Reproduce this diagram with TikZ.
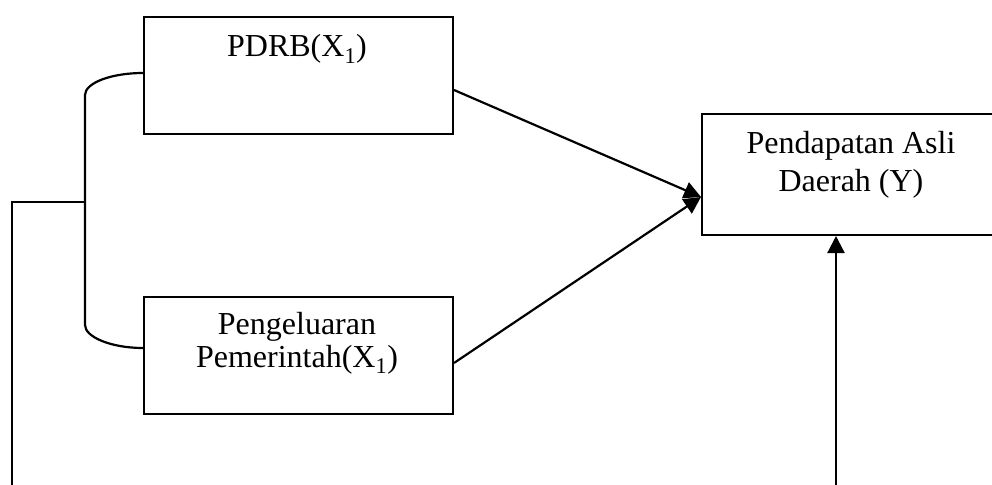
\documentclass[tikz,border=0pt]{standalone}
\usepackage{fontspec}
\setmainfont{Liberation Serif}
\usetikzlibrary{arrows.meta,calc}
\begin{document}
\begin{tikzpicture}[x=1pt,y=-1pt,
  box/.style={draw=black,line width=2pt,anchor=north west,inner sep=0pt},
  lbl/.style={inner sep=0pt,align=center,font=\fontsize{32}{33}\selectfont},
  conn/.style={line width=2.2pt,black},
  arr/.style={conn,-{Triangle[length=17pt,width=17pt]}}]
\useasboundingbox (0,0) rectangle (992,484);
\clip (0,0) rectangle (992,484);
% boxes
\node[box,minimum width=309pt,minimum height=117pt] (pdrb) at (143,16) {};
\node[box,minimum width=309pt,minimum height=117pt] (peng) at (143,296) {};
\node[box,minimum width=300pt,minimum height=121pt] (pad) at (701,113) {};
% texts
\node[lbl,anchor=base] (pdrbt) at (297,57) {PDRB(X\textsubscript{1})};
\node[lbl,anchor=north] (pengt) at (297,312) {Pengeluaran\\Pemerintah(X\textsubscript{1})};
\node[lbl,anchor=north,font=\fontsize{32}{38}\selectfont] (padt) at (851,131) {Pendapatan Asli\\Daerah (Y)};
% coordinates
\coordinate (tgt) at (pad.west |- 0,197);
\coordinate (pdrbR) at (pdrb.east |- 0,90);
\coordinate (pengR) at (peng.east |- 0,363);
\coordinate (pdrbL) at (pdrb.west |- 0,73);
\coordinate (pengL) at (peng.west |- 0,348);
\coordinate (brT) at (85,95);
\coordinate (brB) at (85,325);
\coordinate (brM) at (85,202);
\coordinate (leftC) at (12,202);
\coordinate (leftB) at (12,490);
\coordinate (rightB) at (836,490);
% arrows into Y
\draw[arr] (pdrbR) -- (tgt);
\draw[arr] (pengR) -- (tgt);
\draw[arr] (rightB) -- (rightB |- pad.south);
% bracket
\draw[conn] (pdrbL) .. controls (111,73) and (85,83) .. (brT) -- (brB)
  .. controls (85,337) and (111,348) .. (pengL);
\draw[conn] (brM) -- (leftC) -- (leftB);
\end{tikzpicture}
\end{document}
